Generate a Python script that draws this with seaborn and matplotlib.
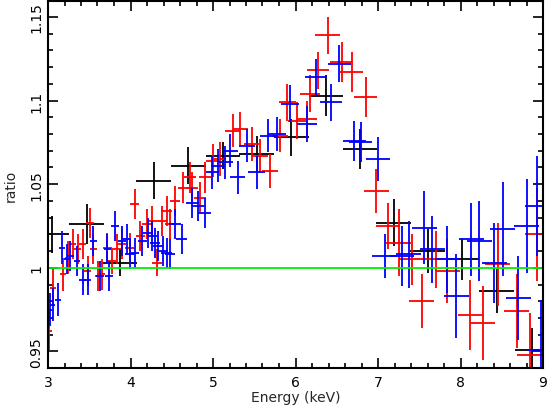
import matplotlib
matplotlib.use("Agg")
import matplotlib.pyplot as plt
import seaborn as sns
import pandas as pd
from matplotlib.ticker import MultipleLocator, FormatStrFormatter

# ---- data ----
# black: wide bins
black_e = [3.05, 3.47, 3.87, 4.28, 4.70, 5.12, 5.53, 5.95, 6.37, 6.78, 7.19, 7.60, 8.02, 8.44, 8.87]
black_de = [0.21, 0.21, 0.21, 0.21, 0.21, 0.21, 0.21, 0.21, 0.21, 0.21, 0.21, 0.21, 0.21, 0.21, 0.21]
black_r = [1.020, 1.026, 1.003, 1.052, 1.061, 1.067, 1.068, 1.078, 1.103, 1.071, 1.027, 1.010, 1.005, 0.986, 0.951]
black_dr = [0.011, 0.012, 0.008, 0.011, 0.011, 0.008, 0.011, 0.011, 0.012, 0.012, 0.014, 0.013, 0.012, 0.013, 0.013]

# red
red_e = [3.01, 3.06, 3.18, 3.24, 3.30, 3.36, 3.42, 3.48, 3.51, 3.55,
         3.61, 3.65, 3.72, 3.78, 3.84, 3.90, 3.99, 4.05, 4.12, 4.20,
         4.26, 4.32, 4.38, 4.44, 4.48, 4.54, 4.64, 4.72, 4.75, 4.84,
         4.90, 5.00, 5.08, 5.24, 5.33, 5.47, 5.57, 5.69, 5.81, 5.90,
         6.02, 6.14, 6.18, 6.27, 6.39, 6.56, 6.68, 6.85, 6.98, 7.12,
         7.25, 7.41, 7.53, 7.70, 7.84, 8.12, 8.27, 8.45, 8.68, 8.84, 8.93]
red_de = [0.04, 0.04, 0.04, 0.04, 0.04, 0.045, 0.045, 0.045, 0.045, 0.045,
          0.045, 0.045, 0.05, 0.05, 0.05, 0.05, 0.055, 0.055, 0.055, 0.06,
          0.06, 0.06, 0.06, 0.065, 0.065, 0.065, 0.07, 0.07, 0.07, 0.075,
          0.075, 0.08, 0.08, 0.09, 0.09, 0.09, 0.1, 0.1, 0.1, 0.1,
          0.11, 0.12, 0.12, 0.13, 0.15, 0.14, 0.14, 0.14, 0.15, 0.15,
          0.15, 0.15, 0.15, 0.15, 0.15, 0.15, 0.15, 0.15, 0.15, 0.15, 0.15]
red_r = [0.962, 0.988, 0.996, 1.006, 1.014, 1.011, 1.014, 0.998, 1.027, 1.011,
         0.995, 0.996, 1.012, 1.004, 1.011, 1.014, 1.012, 1.038, 1.019, 1.026,
         1.028, 1.003, 1.028, 1.034, 1.026, 1.040, 1.048, 1.054, 1.048, 1.042,
         1.054, 1.064, 1.065, 1.082, 1.083, 1.074, 1.067, 1.058, 1.079, 1.099,
         1.088, 1.089, 1.104, 1.118, 1.139, 1.123, 1.117, 1.102, 1.046, 1.025,
         1.015, 1.005, 0.980, 1.005, 0.998, 0.972, 0.967, 1.002, 0.974, 0.948, 1.020]
red_dr = [0.012, 0.011, 0.010, 0.010, 0.009, 0.009, 0.009, 0.009, 0.009, 0.009,
          0.009, 0.009, 0.009, 0.008, 0.009, 0.009, 0.009, 0.009, 0.009, 0.009,
          0.009, 0.008, 0.009, 0.009, 0.009, 0.009, 0.009, 0.009, 0.009, 0.009,
          0.009, 0.010, 0.010, 0.010, 0.010, 0.010, 0.010, 0.010, 0.010, 0.011,
          0.011, 0.011, 0.011, 0.011, 0.011, 0.012, 0.012, 0.012, 0.013, 0.014,
          0.020, 0.015, 0.016, 0.017, 0.019, 0.021, 0.022, 0.025, 0.022, 0.025, 0.028]

# blue
blue_e = [3.02, 3.06, 3.12, 3.17, 3.23, 3.27, 3.35, 3.42, 3.48, 3.55,
          3.63, 3.72, 3.74, 3.81, 3.90, 3.96, 3.99, 4.05, 4.14, 4.21,
          4.26, 4.30, 4.33, 4.39, 4.44, 4.48, 4.54, 4.62, 4.75, 4.82,
          4.90, 4.99, 5.06, 5.15, 5.21, 5.30, 5.41, 5.53, 5.67, 5.78,
          5.93, 6.14, 6.25, 6.43, 6.53, 6.71, 6.79, 7.00, 7.08, 7.29,
          7.37, 7.56, 7.66, 7.84, 7.95, 8.13, 8.23, 8.41, 8.51, 8.70,
          8.80, 8.93, 8.97]
blue_de = [0.03, 0.03, 0.035, 0.035, 0.035, 0.04, 0.04, 0.04, 0.045, 0.045,
           0.045, 0.045, 0.05, 0.05, 0.05, 0.05, 0.055, 0.055, 0.055, 0.06,
           0.06, 0.06, 0.06, 0.065, 0.065, 0.065, 0.07, 0.07, 0.075, 0.075,
           0.08, 0.08, 0.085, 0.09, 0.09, 0.09, 0.1, 0.1, 0.1, 0.11,
           0.11, 0.12, 0.13, 0.13, 0.14, 0.14, 0.14, 0.14, 0.15, 0.15,
           0.15, 0.15, 0.15, 0.15, 0.15, 0.15, 0.15, 0.15, 0.15, 0.15,
           0.15, 0.15, 0.15]
blue_r = [0.975, 0.978, 0.981, 1.012, 1.005, 1.007, 1.004, 0.993, 0.993, 1.016,
          0.995, 1.011, 0.995, 1.025, 1.016, 1.017, 1.008, 1.009, 1.016, 1.021,
          1.019, 1.015, 1.013, 1.010, 1.009, 1.008, 1.026, 1.017, 1.039, 1.037,
          1.033, 1.057, 1.061, 1.063, 1.070, 1.054, 1.073, 1.057, 1.079, 1.080,
          1.098, 1.086, 1.114, 1.099, 1.122, 1.076, 1.075, 1.065, 1.007, 1.007,
          1.008, 1.024, 1.011, 1.005, 0.983, 1.017, 1.016, 1.003, 1.023, 0.982,
          1.025, 1.037, 0.951]
blue_dr = [0.010, 0.010, 0.010, 0.010, 0.009, 0.009, 0.009, 0.009, 0.009, 0.009,
           0.009, 0.009, 0.009, 0.009, 0.009, 0.009, 0.009, 0.009, 0.009, 0.009,
           0.009, 0.009, 0.009, 0.009, 0.009, 0.009, 0.009, 0.009, 0.009, 0.009,
           0.009, 0.010, 0.010, 0.010, 0.010, 0.010, 0.010, 0.010, 0.010, 0.010,
           0.011, 0.011, 0.011, 0.011, 0.011, 0.012, 0.012, 0.013, 0.013, 0.018,
           0.020, 0.022, 0.020, 0.020, 0.025, 0.022, 0.024, 0.024, 0.028, 0.025,
           0.028, 0.030, 0.030]

model_e = [3.0, 9.0]
model_r = [1.0, 1.0]

sns.set_style("ticks")
plt.rcParams['font.family'] = ['DejaVu Sans']

fig = plt.figure(figsize=(5.48, 4.10), dpi=100)
ax = fig.add_axes([48 / 548, 41 / 410, 495 / 548, 367 / 410])

series = [
    (black_e, black_de, black_r, black_dr, "black"),
    (red_e, red_de, red_r, red_dr, "#ff0000"),
    (blue_e, blue_de, blue_r, blue_dr, "#0000ff"),
]
for e, de, r, dr, col in series:
    ax.errorbar(e, r, xerr=de, yerr=dr, fmt="none", ecolor=col,
                elinewidth=1.3, capsize=0)

line_df = pd.DataFrame({"e": model_e, "r": model_r})
sns.lineplot(data=line_df, x="e", y="r", color="#00ee00", linewidth=1.3, ax=ax)

ax.set_xlim(3, 9)
ax.set_ylim(0.9401, 1.1595)

ax.xaxis.set_major_locator(MultipleLocator(1))
ax.xaxis.set_minor_locator(MultipleLocator(0.2))
ax.yaxis.set_major_locator(MultipleLocator(0.05))
ax.yaxis.set_minor_locator(MultipleLocator(0.01))
ax.yaxis.set_major_formatter(FormatStrFormatter("%g"))

ax.tick_params(which="both", direction="in", top=True, right=True,
               width=1.2, labelsize=10, colors="black")
ax.tick_params(which="major", length=7)
ax.tick_params(which="minor", length=3.5)
ax.tick_params(axis="x", pad=5)
for lab in ax.get_yticklabels():
    lab.set_rotation(90)
    lab.set_va("center")

for sp in ax.spines.values():
    sp.set_linewidth(1.5)
    sp.set_color("black")

ax.set_xlabel("Energy (keV)", fontsize=10, labelpad=1)
ax.set_ylabel("ratio", fontsize=10, labelpad=8)

fig.savefig("out.png", dpi=100)
